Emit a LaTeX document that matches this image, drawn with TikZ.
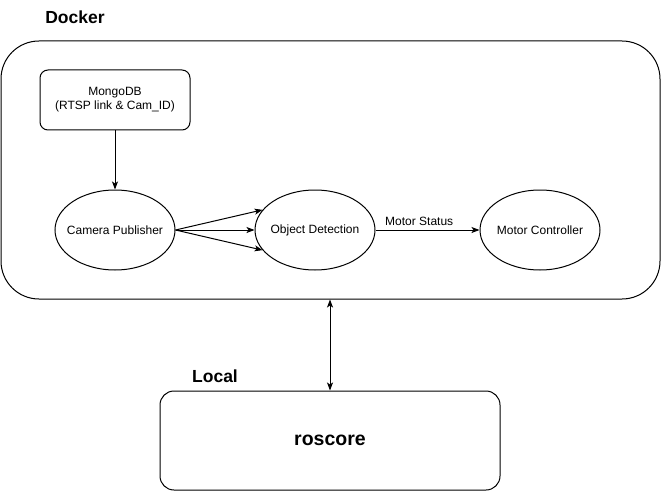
\documentclass[tikz,border=0pt]{standalone}
\usepackage{fontspec}
\setmainfont{Liberation Sans}
\usetikzlibrary{arrows.meta,shapes.geometric}
\begin{document}
\begin{tikzpicture}[x=1pt,y=-1pt,
  line width=1pt,
  >={Stealth[length=8pt,width=6pt,inset=2pt]},
  small/.style={font=\fontsize{12}{14}\selectfont},
  ell/.style={draw,ellipse,minimum width=120pt,minimum height=80pt,inner xsep=-10pt,inner ysep=0pt,small},
  boxnode/.style={draw,rounded corners=#1,inner sep=0pt},
  title/.style={font=\fontsize{17.5}{20}\selectfont\bfseries}
]
\useasboundingbox (0,0) rectangle (661,492);
\node[boxnode=38pt,minimum width=659pt,minimum height=258pt] (docker) at (330.5,170) {};
\node[title] (dockerlbl) at (75,17) {Docker};
\node[boxnode=8pt,minimum width=150pt,minimum height=60pt,align=center,small] (mongo) at (115,100) {MongoDB\\(RTSP link \& Cam\_ID)};
\node[ell] (cam) at (115,230) {Camera Publisher};
\node[ell] (obj) at (315,230) {Object Detection};
\node[ell] (motor) at (540,230) {Motor Controller};
\node[boxnode=14pt,minimum width=340pt,minimum height=99pt,font=\fontsize{19.5}{22}\selectfont\bfseries] (ros) at (330,440.5) {roscore};
\node[title] (locallbl) at (215,376) {Local};
\draw[->] (mongo) -- (cam);
\draw[->] (cam.east) -- (obj.159);
\draw[->] (cam.east) -- (obj.west);
\draw[->] (cam.east) -- (obj.201);
\draw[->] (obj) -- node[pos=0.42,above=1pt,small] {Motor Status} (motor);
\draw[<->] (ros.north |- docker.south) -- (ros.north);
\end{tikzpicture}
\end{document}
